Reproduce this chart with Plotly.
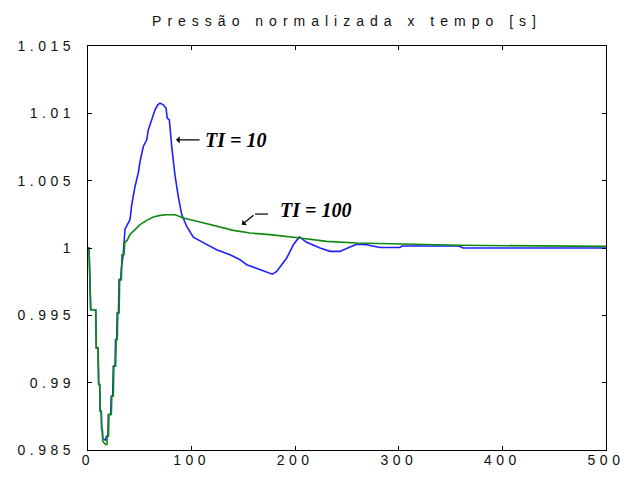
import plotly.graph_objects as go

# ---- data ----
t_ti10 = [0, 1.0, 2.6, 7.4, 8.0, 9.7, 10.3, 11.3, 11.8, 12.8, 13.2, 13.8, 14.3, 16.3, 17.0,
          17.8, 19.2, 19.6, 21.9, 22.4, 23.8, 24.4, 26.1, 26.6, 27.7, 28.2, 29.4, 30.0, 31.6,
          32.2, 34.0, 35.7, 40.5, 42.2, 45.4, 48.6, 50.2, 53.4, 56.7, 58.2, 61.5, 64.7, 67.3,
          69.5, 72.7, 75.3, 76.5, 78.5, 80.8, 84.0, 87.2, 90.4, 95.3, 101.6, 111.3, 124.2,
          137.1, 146.7, 153.2, 166.0, 175.7, 178.0, 182.1, 188.5, 191.8, 198.2, 204.0, 211.1,
          224.0, 233.6, 243.2, 252.9, 259.4, 269.0, 281.9, 301.0, 303.0, 358.0, 362.0, 500.0]
p_ti10 = [1.0, 1.0, 0.99542, 0.99542, 0.99258, 0.99258, 0.98986, 0.98986, 0.98788, 0.98788,
          0.98652, 0.98652, 0.98578, 0.98578, 0.98570,
          0.98602, 0.98602, 0.98764, 0.98764, 0.98899, 0.98899, 0.99122, 0.99122, 0.9932,
          0.9932, 0.99518, 0.99518, 0.99765, 0.99765,
          0.9985, 0.9995, 1.0014, 1.0021, 1.0032, 1.00457, 1.00559, 1.00642, 1.00754, 1.00803,
          1.00877, 1.00952, 1.01026, 1.01063, 1.01076, 1.01063, 1.01039, 1.00964, 1.00952,
          1.00754, 1.0054, 1.0038, 1.0025, 1.0016, 1.0008, 1.0004, 0.99987, 0.9995, 0.99913,
          0.99876, 0.99839, 0.99809, 0.99806, 0.99826, 0.99889, 0.99926, 1.00024, 1.00082,
          1.00042, 1.0, 0.99975, 0.99975, 1.00007, 1.00028, 1.00024, 1.00004, 1.00004,
          1.00015, 1.00015, 1.0, 1.0]

t_ti100 = [0, 1.0, 2.6, 7.4, 8.0, 9.7, 10.3, 11.3, 11.8, 12.8, 13.2, 13.8, 14.3, 17.0,
           18.3, 18.6, 19.8, 20.2, 22.5, 23.0, 24.4, 25.0, 26.7, 27.2, 28.3, 28.8, 30.0,
           30.6, 32.2, 32.8, 34.7, 35.5, 38.0, 40.5, 45.4, 50.2, 56.7, 63.1, 69.5, 76.0,
           84.0, 92.0, 108.1, 124.2, 140.3, 156.4, 175.7, 204.6, 230.4, 259.4, 295.0, 359.0,
           500.0]
p_ti100 = [1.0, 1.0, 0.99542, 0.99542, 0.99258, 0.99258, 0.98986, 0.98986, 0.98788, 0.98788,
           0.98652, 0.98652, 0.98563, 0.98541,
           0.98541, 0.98602, 0.98602, 0.98764, 0.98764, 0.98899, 0.98899, 0.99122, 0.99122,
           0.9932, 0.9932, 0.99518, 0.99518, 0.99765, 0.99765, 0.9995, 0.9995, 1.0004,
           1.0006, 1.001, 1.00136, 1.00173, 1.00205, 1.0023, 1.00242, 1.00247, 1.00247,
           1.00223, 1.00193, 1.0016, 1.00131, 1.00111, 1.00099, 1.00074, 1.00049, 1.00037,
           1.0003, 1.0002, 1.00012]

x_ticks = [0, 100, 200, 300, 400, 500]
x_labels = ["0", "100", "200", "300", "400", "500"]
y_ticks = [0.985, 0.99, 0.995, 1.0, 1.005, 1.01, 1.015]
y_labels = ["0.985", "0.99", "0.995", "1", "1.005", "1.01", "1.015"]

title_text = "Pressão normalizada x tempo [s]"
label_ti10 = "TI = 10"
label_ti100 = "TI = 100"

BLUE = "#1f1fff"
GREEN = "#0e8a0e"

fig = go.Figure()
fig.add_trace(go.Scatter(x=t_ti10, y=p_ti10, mode="lines",
                         line=dict(color=BLUE, width=1.6), name=label_ti10))
fig.add_trace(go.Scatter(x=t_ti100, y=p_ti100, mode="lines",
                         line=dict(color=GREEN, width=1.6), name=label_ti100))

axis_common = dict(showgrid=False, zeroline=False, showline=True, linecolor="black",
                   linewidth=1.3, mirror="ticks", ticks="inside", ticklen=4,
                   tickwidth=1, tickcolor="black", automargin=False,
                   tickfont=dict(family="Liberation Sans, Arial", size=14, color="#111"))

fig.update_xaxes(range=[0, 500], tickvals=x_ticks, ticktext=x_labels,
                 ticklabelstandoff=-3, **axis_common)
fig.update_yaxes(range=[0.985, 1.015], tickvals=y_ticks, ticktext=y_labels,
                 ticklabelstandoff=9, **axis_common)

ann_font = dict(family="Liberation Serif, Times New Roman", size=20, color="black",
                weight="bold", style="italic")
fig.add_annotation(x=111, y=1.00803, text=label_ti10, showarrow=False,
                   xanchor="left", yanchor="middle", font=ann_font)
fig.add_annotation(x=85, y=1.00803, ax=25, ay=0, text="", showarrow=True,
                   arrowhead=1, arrowsize=1, arrowwidth=1.2, arrowcolor="black")
fig.add_annotation(x=183.4, y=1.00284, text=label_ti100, showarrow=False,
                   xanchor="left", yanchor="middle", font=ann_font)
fig.add_annotation(x=148.6, y=1.00173, ax=161.2, ay=1.00252, axref="x", ayref="y",
                   text="", showarrow=True, arrowhead=1, arrowsize=1, arrowwidth=1.2,
                   arrowcolor="black")
fig.add_shape(type="line", x0=161.2, y0=1.00252, x1=173.7, y1=1.00252,
              line=dict(color="black", width=1.2))

fig.update_layout(
    width=624, height=477,
    margin=dict(l=88, r=18, t=46, b=27, autoexpand=False),
    paper_bgcolor="white", plot_bgcolor="white",
    showlegend=False,
    title=dict(text=title_text, x=0.5, xref="paper", xanchor="center",
               y=1 - 21 / 477, yref="container", yanchor="middle",
               font=dict(family="Liberation Sans, Arial", size=14, color="#111")),
)

post = """
document.body.style.margin='0';
document.body.style.padding='0';
document.querySelectorAll('.xtick text, .ytick text').forEach(function(e){e.style.letterSpacing='4.5px';});
document.querySelectorAll('.gtitle').forEach(function(e){e.style.letterSpacing='6px';});
"""
fig.write_html("out.html", post_script=post, config={"displayModeBar": False})
